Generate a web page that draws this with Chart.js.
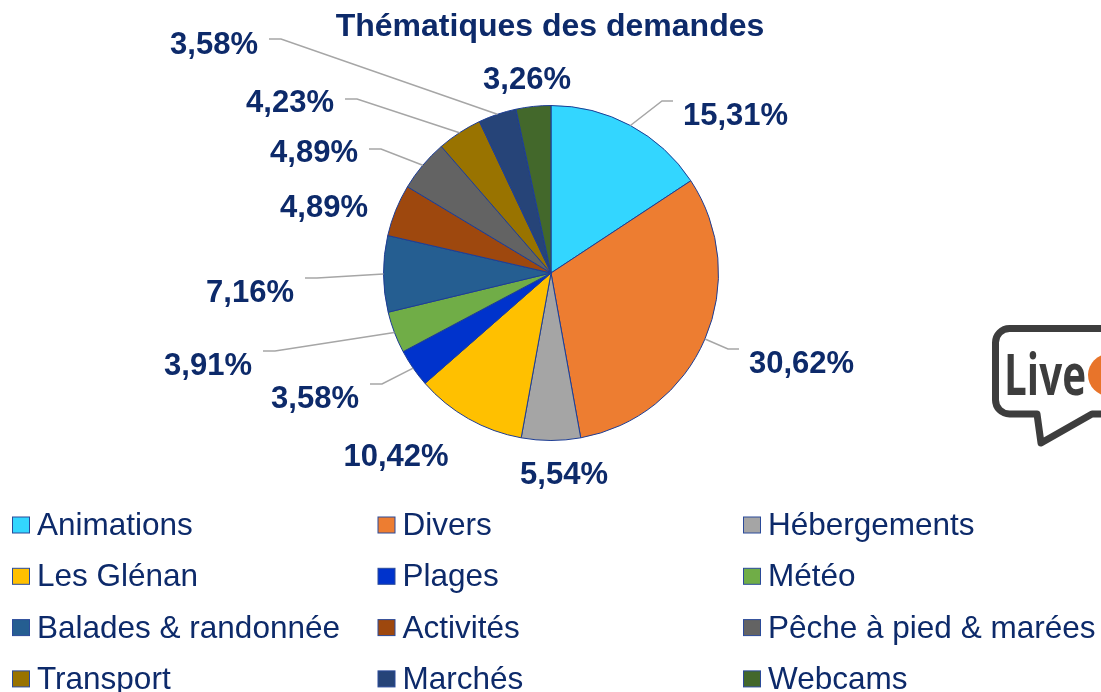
<!DOCTYPE html>
<html lang="fr">
<head>
<meta charset="utf-8">
<title>Thématiques des demandes</title>
<script src="https://cdn.jsdelivr.net/npm/chart.js@4.4.1/dist/chart.umd.min.js"></script>
<style>
  html, body { margin: 0; padding: 0; background: #ffffff; }
  canvas { display: block; }
</style>
</head>
<body>
<canvas id="demandesChart" width="1101" height="692"></canvas>
<script>
const chartTitle = "Thématiques des demandes";
const categories = [
  "Animations", "Divers", "Hébergements",
  "Les Glénan", "Plages", "Météo",
  "Balades & randonnée", "Activités", "Pêche à pied & marées",
  "Transport", "Marchés", "Webcams",
];
const shares = [15.31, 30.62, 5.54, 10.42, 3.58, 3.91, 7.16, 4.89, 4.89, 4.23, 3.58, 3.26];

const sliceColors = [
  "#33d6ff", "#ed7d31", "#a5a5a5",
  "#ffc000", "#0033cc", "#70ad47",
  "#255e91", "#9e480e", "#636363",
  "#997300", "#264478", "#43682b",
];

const NAVY = "#0d2a6a";
const FONT = 'Arial, "Liberation Sans", sans-serif';

// where each percentage sits, relative to the pie centre: [dx, baseline dy, align, leader line dy]
const labelLayout = [
  [132, -148, "left", -172],
  [198, 100, "left", 76],
  [13, 211, "center", null],
  [-155, 193, "center", null],
  [-192, 135, "right", 111],
  [-299, 102, "right", 78],
  [-257, 29, "right", 5],
  [-183, -56, "right", null],
  [-193, -111, "right", -124],
  [-217, -161, "right", -174],
  [-293, -219, "right", -234],
  [-24, -184, "center", null],
];

const fmt = (v) => v.toFixed(2).replace(".", ",") + "%";

const titleText = {
  id: "titleText",
  afterDraw(chart) {
    const ctx = chart.ctx;
    ctx.save();
    ctx.font = "bold 32px " + FONT;
    ctx.fillStyle = NAVY;
    ctx.textAlign = "center";
    ctx.textBaseline = "alphabetic";
    ctx.fillText(chartTitle, 550, 36);
    ctx.restore();
  },
};

const percentLabels = {
  id: "percentLabels",
  afterDatasetsDraw(chart) {
    const ctx = chart.ctx;
    const arcs = chart.getDatasetMeta(0).data;
    ctx.save();
    ctx.font = "bold 31px " + FONT;
    ctx.textBaseline = "alphabetic";
    arcs.forEach((arc, i) => {
      const [dx, dy, align, lineDy] = labelLayout[i];
      const cx = arc.x;
      const cy = arc.y;
      const text = fmt(shares[i]);
      const tx = cx + dx;
      const ty = cy + dy;

      if (lineDy !== null) {
        const w = ctx.measureText(text).width;
        const mid = (arc.startAngle + arc.endAngle) / 2;
        const sx = cx + Math.cos(mid) * arc.outerRadius;
        const sy = cy + Math.sin(mid) * arc.outerRadius;
        let endX, elbowX;
        if (align === "left") {
          endX = tx - 10;
          elbowX = endX - 11;
        } else {
          endX = (align === "right" ? tx : tx + w / 2) + 11;
          elbowX = endX + 12;
        }
        ctx.strokeStyle = "#a6a6a6";
        ctx.lineWidth = 1.5;
        ctx.beginPath();
        ctx.moveTo(sx, sy);
        ctx.lineTo(elbowX, cy + lineDy);
        ctx.lineTo(endX, cy + lineDy);
        ctx.stroke();
      }

      ctx.fillStyle = NAVY;
      ctx.textAlign = align;
      ctx.fillText(text, tx, ty);
    });
    ctx.restore();
  },
};

const gridLegend = {
  id: "gridLegend",
  afterDraw(chart) {
    const ctx = chart.ctx;
    const ds = chart.data.datasets[0];
    ctx.save();
    ctx.font = "31.5px " + FONT;
    ctx.textAlign = "left";
    ctx.textBaseline = "alphabetic";
    chart.data.labels.forEach((label, i) => {
      const col = i % 3;
      const row = Math.floor(i / 3);
      const boxX = 12.5 + col * 365.5;
      const base = 535 + row * 51.3;
      ctx.fillStyle = ds.backgroundColor[i];
      ctx.fillRect(boxX, base - 18, 17, 16);
      ctx.strokeStyle = "#2a4a9a";
      ctx.lineWidth = 1;
      ctx.strokeRect(boxX, base - 18, 17, 16);
      ctx.fillStyle = NAVY;
      ctx.fillText(label, boxX + 24.5, base);
    });
    ctx.restore();
  },
};

// speech bubble logo cut off at the right edge
const liveLogo = {
  id: "liveLogo",
  afterDraw(chart) {
    const ctx = chart.ctx;
    ctx.save();
    ctx.strokeStyle = "#3d3d3d";
    ctx.lineWidth = 7;
    ctx.lineJoin = "round";
    const l = 995.5, t = 328.5, b = 414, r = 1120, rad = 14;
    ctx.beginPath();
    ctx.moveTo(r, t);
    ctx.lineTo(l + rad, t);
    ctx.arcTo(l, t, l, t + rad, rad);
    ctx.lineTo(l, b - rad);
    ctx.arcTo(l, b, l + rad, b, rad);
    ctx.lineTo(1037, b);
    ctx.lineTo(1041, 443);
    ctx.lineTo(1092, b);
    ctx.lineTo(r, b);
    ctx.stroke();

    ctx.fillStyle = "#e8742a";
    ctx.beginPath();
    ctx.arc(1109, 375, 21, 0, Math.PI * 2);
    ctx.fill();

    ctx.fillStyle = "#3d3d3d";
    ctx.font = 'bold 58px "Open Sans", ' + FONT;
    const w = ctx.measureText("Live").width;
    ctx.translate(1004, 395);
    ctx.scale(82 / w, 1);
    ctx.textAlign = "left";
    ctx.fillText("Live", 0, 0);
    ctx.restore();
  },
};

const ctx = document.getElementById("demandesChart").getContext("2d");
const demandesChart = new Chart(ctx, {
  type: "pie",
  data: {
    labels: categories,
    datasets: [
      {
        label: chartTitle,
        data: shares,
        backgroundColor: sliceColors,
        borderColor: "#1d3d94",
        borderWidth: 1,
      },
    ],
  },
  options: {
    responsive: false,
    animation: false,
    layout: {
      padding: { top: 105, left: 383, right: 382, bottom: 251 },
    },
    plugins: {
      legend: { display: false },
      tooltip: { enabled: false },
      title: { display: false },
    },
  },
  plugins: [percentLabels, gridLegend, titleText, liveLogo],
});
</script>
</body>
</html>
